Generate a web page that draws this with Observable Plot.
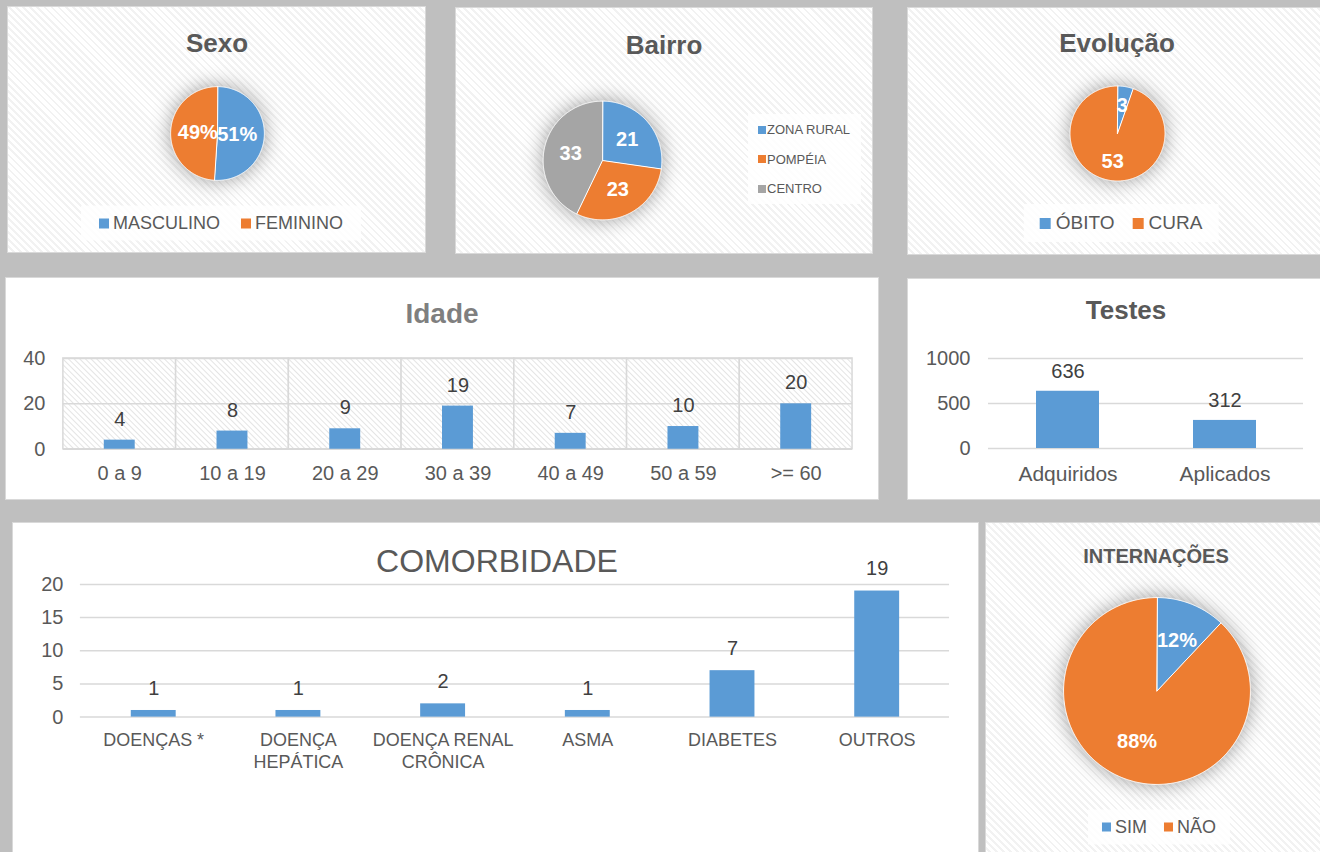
<!DOCTYPE html>
<html><head><meta charset="utf-8">
<script src="https://cdn.jsdelivr.net/npm/d3@7"></script>
<script src="https://cdn.jsdelivr.net/npm/@observablehq/plot@0.6"></script>
<style>
html,body{margin:0;padding:0;}
body{width:1320px;height:852px;background:#bfbfbf;position:relative;overflow:hidden;font-family:"Liberation Sans",Arial,sans-serif;color:#595959;}
.panel{position:absolute;background:#fff;border:1px solid #d9d9d9;box-sizing:border-box;overflow:hidden;}
.hatched{background:repeating-linear-gradient(45deg,#ffffff 0px,#ffffff 3px,#f2f2f2 3px,#f2f2f2 5px);}
.title{position:absolute;transform:translate(-50%,-50%);white-space:nowrap;font-weight:bold;font-size:26px;color:#595959;line-height:1;}
.chart{position:absolute;}
.chart svg{overflow:visible;display:block;}
.pie g[aria-label="line"]{filter:drop-shadow(0 0 10px rgba(0,0,0,0.38));}
.legend{position:absolute;display:flex;align-items:center;background:rgba(255,255,255,0.8);white-space:nowrap;color:#595959;}
.legend .item{display:flex;align-items:center;}
.legend .sw{display:inline-block;flex:none;}
</style></head>
<body>
<svg width="0" height="0" style="position:absolute">
  <defs>
    <pattern id="hatch" width="4" height="4" patternUnits="userSpaceOnUse" patternTransform="rotate(-45)">
      <rect width="4" height="4" fill="#ffffff"/>
      <line x1="0" y1="0" x2="0" y2="4" stroke="#d9d9d9" stroke-width="1.4"/>
    </pattern>
  </defs>
</svg>
<script>
// ---- data ----
const BLUE = "#5b9bd5", ORANGE = "#ed7d31", GRAY = "#a5a5a5";

const sexoLabels = ["MASCULINO", "FEMININO"];
const sexoValues = [51, 49];

const bairroLabels = ["ZONA RURAL", "POMPÉIA", "CENTRO"];
const bairroValues = [21, 23, 33];

const evolucaoLabels = ["ÓBITO", "CURA"];
const evolucaoValues = [3, 53];

const idadeCats = ["0 a 9", "10 a 19", "20 a 29", "30 a 39", "40 a 49", "50 a 59", ">= 60"];
const idadeValues = [4, 8, 9, 19, 7, 10, 20];
const idadeTicks = [0, 20, 40];

const testesCats = ["Adquiridos", "Aplicados"];
const testesValues = [636, 312];
const testesTicks = [0, 500, 1000];

const comorbCats = ["DOENÇAS *", "DOENÇA\nHEPÁTICA", "DOENÇA RENAL\nCRÔNICA", "ASMA", "DIABETES", "OUTROS"];
const comorbValues = [1, 1, 2, 1, 7, 19];
const comorbTicks = [0, 5, 10, 15, 20];

const internLabels = ["SIM", "NÃO"];
const internValues = [12, 88];

// ---- helpers ----
const baseStyle = {fontFamily: "Liberation Sans, Arial, sans-serif", fontSize: "20px", color: "#595959", background: "transparent", overflow: "visible"};

function panel(x, y, w, h, hatched) {
  const d = document.createElement("div");
  d.className = "panel" + (hatched ? " hatched" : "");
  Object.assign(d.style, {left: x + "px", top: y + "px", width: w + "px", height: h + "px"});
  document.body.appendChild(d);
  return d;
}
function title(p, text, cx, cy, extra) {
  const t = document.createElement("div");
  t.className = "title";
  t.textContent = text;
  t.style.left = cx + "px"; t.style.top = cy + "px";
  Object.assign(t.style, extra || {});
  p.appendChild(t);
}
function place(p, svg, left, top, cls) {
  const c = document.createElement("div");
  c.className = "chart" + (cls ? " " + cls : "");
  c.style.left = left + "px"; c.style.top = top + "px";
  c.appendChild(svg);
  p.appendChild(c);
}
function pie(p, labels, values, colors, o) {
  const ext = 1.6;
  const size = Math.round(2 * ext * o.r);
  const arcs = d3.pie().sort(null)(values);
  const pts = [];
  arcs.forEach((a, i) => {
    pts.push({label: labels[i], x: 0, y: 0});
    const n = Math.max(2, Math.ceil((a.endAngle - a.startAngle) / 0.01));
    for (let k = 0; k <= n; k++) {
      const t = a.startAngle + (a.endAngle - a.startAngle) * k / n;
      pts.push({label: labels[i], x: Math.sin(t), y: Math.cos(t)});
    }
  });
  const lab = arcs.map((a, i) => {
    const m = (a.startAngle + a.endAngle) / 2;
    return {x: o.labelR * Math.sin(m), y: o.labelR * Math.cos(m), text: o.fmt(values[i])};
  });
  const svg = Plot.plot({
    width: size, height: size, margin: 0,
    x: {domain: [-ext, ext], axis: null},
    y: {domain: [-ext, ext], axis: null},
    color: {domain: labels, range: colors},
    style: baseStyle,
    marks: [
      Plot.line(pts, {x: "x", y: "y", z: "label", fill: "label", stroke: "white", strokeWidth: 1, curve: "linear-closed"}),
      Plot.text(lab, {x: "x", y: "y", text: "text", fill: "white", fontWeight: "bold", fontSize: 20})
    ]
  });
  place(p, svg, o.cx - size / 2, o.cy - size / 2, "pie");
}
function legend(p, labels, colors, o) {
  const L = document.createElement("div");
  L.className = "legend";
  L.style.fontSize = o.fs + "px";
  if (o.vertical) {
    Object.assign(L.style, {flexDirection: "column", alignItems: "flex-start", justifyContent: "center",
      left: o.left + "px", top: o.top + "px", width: o.w + "px", height: o.h + "px", boxSizing: "border-box", padding: o.pad});
  } else {
    Object.assign(L.style, {left: o.cx + "px", top: o.cy + "px", height: o.h + "px", padding: o.pad,
      gap: o.gap + "px", transform: "translate(-50%,-50%)"});
  }
  labels.forEach((lab, i) => {
    const it = document.createElement("div");
    it.className = "item";
    if (o.rowH) it.style.height = o.rowH + "px";
    const sw = document.createElement("span");
    sw.className = "sw";
    sw.style.width = sw.style.height = o.sw + "px";
    sw.style.background = colors[i];
    sw.style.marginRight = o.swGap + "px";
    const t = document.createElement("span");
    t.textContent = lab;
    it.append(sw, t);
    L.appendChild(it);
  });
  p.appendChild(L);
}
function barChart(cats, values, o) {
  const data = cats.map((c, i) => ({cat: c, value: values[i]}));
  const marks = [];
  if (o.hatchCells) {
    marks.push(Plot.cell(cats, {x: d => d, fill: "url(#hatch)", stroke: "#d9d9d9", strokeWidth: 1.5, inset: 0}));
  }
  marks.push(Plot.ruleY(o.ticks, {stroke: "#d9d9d9", strokeWidth: 1.5}));
  marks.push(Plot.barY(data, {x: "cat", y: "value", fill: BLUE, insetLeft: o.inset, insetRight: o.inset}));
  marks.push(Plot.text(data, {x: "cat", y: "value", text: d => String(d.value), dy: o.dy, fill: "#404040", fontSize: 20}));
  marks.push(Plot.axisY({ticks: o.ticks, tickFormat: d => String(d), tickSize: 0, tickPadding: o.yPad, label: null, fontSize: 20}));
  marks.push(Plot.axisX({tickSize: 0, tickPadding: o.xPad, label: null, fontSize: o.xFs, lineHeight: o.lineHeight || 1}));
  return Plot.plot({
    width: o.width, height: o.height,
    marginLeft: o.ml, marginRight: o.mr, marginTop: o.mt, marginBottom: o.mb,
    x: {domain: cats, padding: 0},
    y: {domain: o.domain},
    style: baseStyle,
    marks
  });
}

// ---- Sexo ----
const p1 = panel(7, 6, 419, 247, true);
title(p1, "Sexo", 209, 36);
pie(p1, sexoLabels, sexoValues, [BLUE, ORANGE], {cx: 209, cy: 126, r: 47, labelR: 0.42, fmt: v => v + "%"});
legend(p1, sexoLabels, [BLUE, ORANGE], {cx: 213, cy: 216, h: 35, pad: "0 18px", gap: 21, fs: 18, sw: 10, swGap: 4});

// ---- Bairro ----
const p2 = panel(455, 7, 418, 247, true);
title(p2, "Bairro", 208, 37);
pie(p2, bairroLabels, bairroValues, [BLUE, ORANGE, GRAY], {cx: 146, cy: 151.5, r: 59.5, labelR: 0.55, fmt: v => String(v)});
legend(p2, bairroLabels, [BLUE, ORANGE, GRAY], {vertical: true, left: 292, top: 106, w: 113, h: 90, pad: "0 0 0 10px", fs: 13, sw: 8, swGap: 1, rowH: 29.5});

// ---- Evolução ----
const p3 = panel(907, 7, 420, 248, true);
title(p3, "Evolução", 209, 35);
pie(p3, evolucaoLabels, evolucaoValues, [BLUE, ORANGE], {cx: 208.5, cy: 124.5, r: 47.5, labelR: 0.6, fmt: v => String(v)});
legend(p3, evolucaoLabels, [BLUE, ORANGE], {cx: 213, cy: 215, h: 38, pad: "0 16px", gap: 18, fs: 19, sw: 11, swGap: 5});

// ---- Idade ----
const p4 = panel(5, 277, 874, 223, false);
title(p4, "Idade", 436, 36, {color: "#7f7f7f", fontSize: "28px"});
place(p4, barChart(idadeCats, idadeValues, {
  width: 874, height: 163, ml: 57, mr: 26, mt: 27, mb: 45, domain: [0, 40], ticks: idadeTicks,
  hatchCells: true, inset: 41, dy: -21, yPad: 18, xPad: 17, xFs: 20
}), 0, 53);

// ---- Testes ----
const p5 = panel(907, 278, 420, 222, false);
title(p5, "Testes", 218, 31);
place(p5, barChart(testesCats, testesValues, {
  width: 413, height: 162, ml: 80, mr: 18, mt: 27, mb: 45, domain: [0, 1000], ticks: testesTicks,
  inset: 47, dy: -20, yPad: 18, xPad: 18, xFs: 21
}), 0, 52);

// ---- Comorbidade ----
const p6 = panel(12, 522, 967, 340, false);
title(p6, "COMORBIDADE", 484, 38, {fontWeight: "normal", fontSize: "32px"});
place(p6, barChart(comorbCats, comorbValues, {
  width: 967, height: 243, ml: 67, mr: 29, mt: 45, mb: 65, domain: [0, 20], ticks: comorbTicks,
  inset: 50, dy: -22, yPad: 17, xPad: 13, xFs: 18, lineHeight: 1.22
}), 0, 16);

// ---- Internações ----
const p7 = panel(985, 522, 340, 340, true);
title(p7, "INTERNAÇÕES", 170, 33, {fontSize: "20px"});
pie(p7, internLabels, internValues, [BLUE, ORANGE], {cx: 170.5, cy: 167.5, r: 93.5, labelR: 0.58, fmt: v => v + "%"});
legend(p7, internLabels, [BLUE, ORANGE], {cx: 173, cy: 304, h: 35, pad: "0 14px", gap: 17, fs: 18, sw: 9, swGap: 4});
</script>
</body></html>
